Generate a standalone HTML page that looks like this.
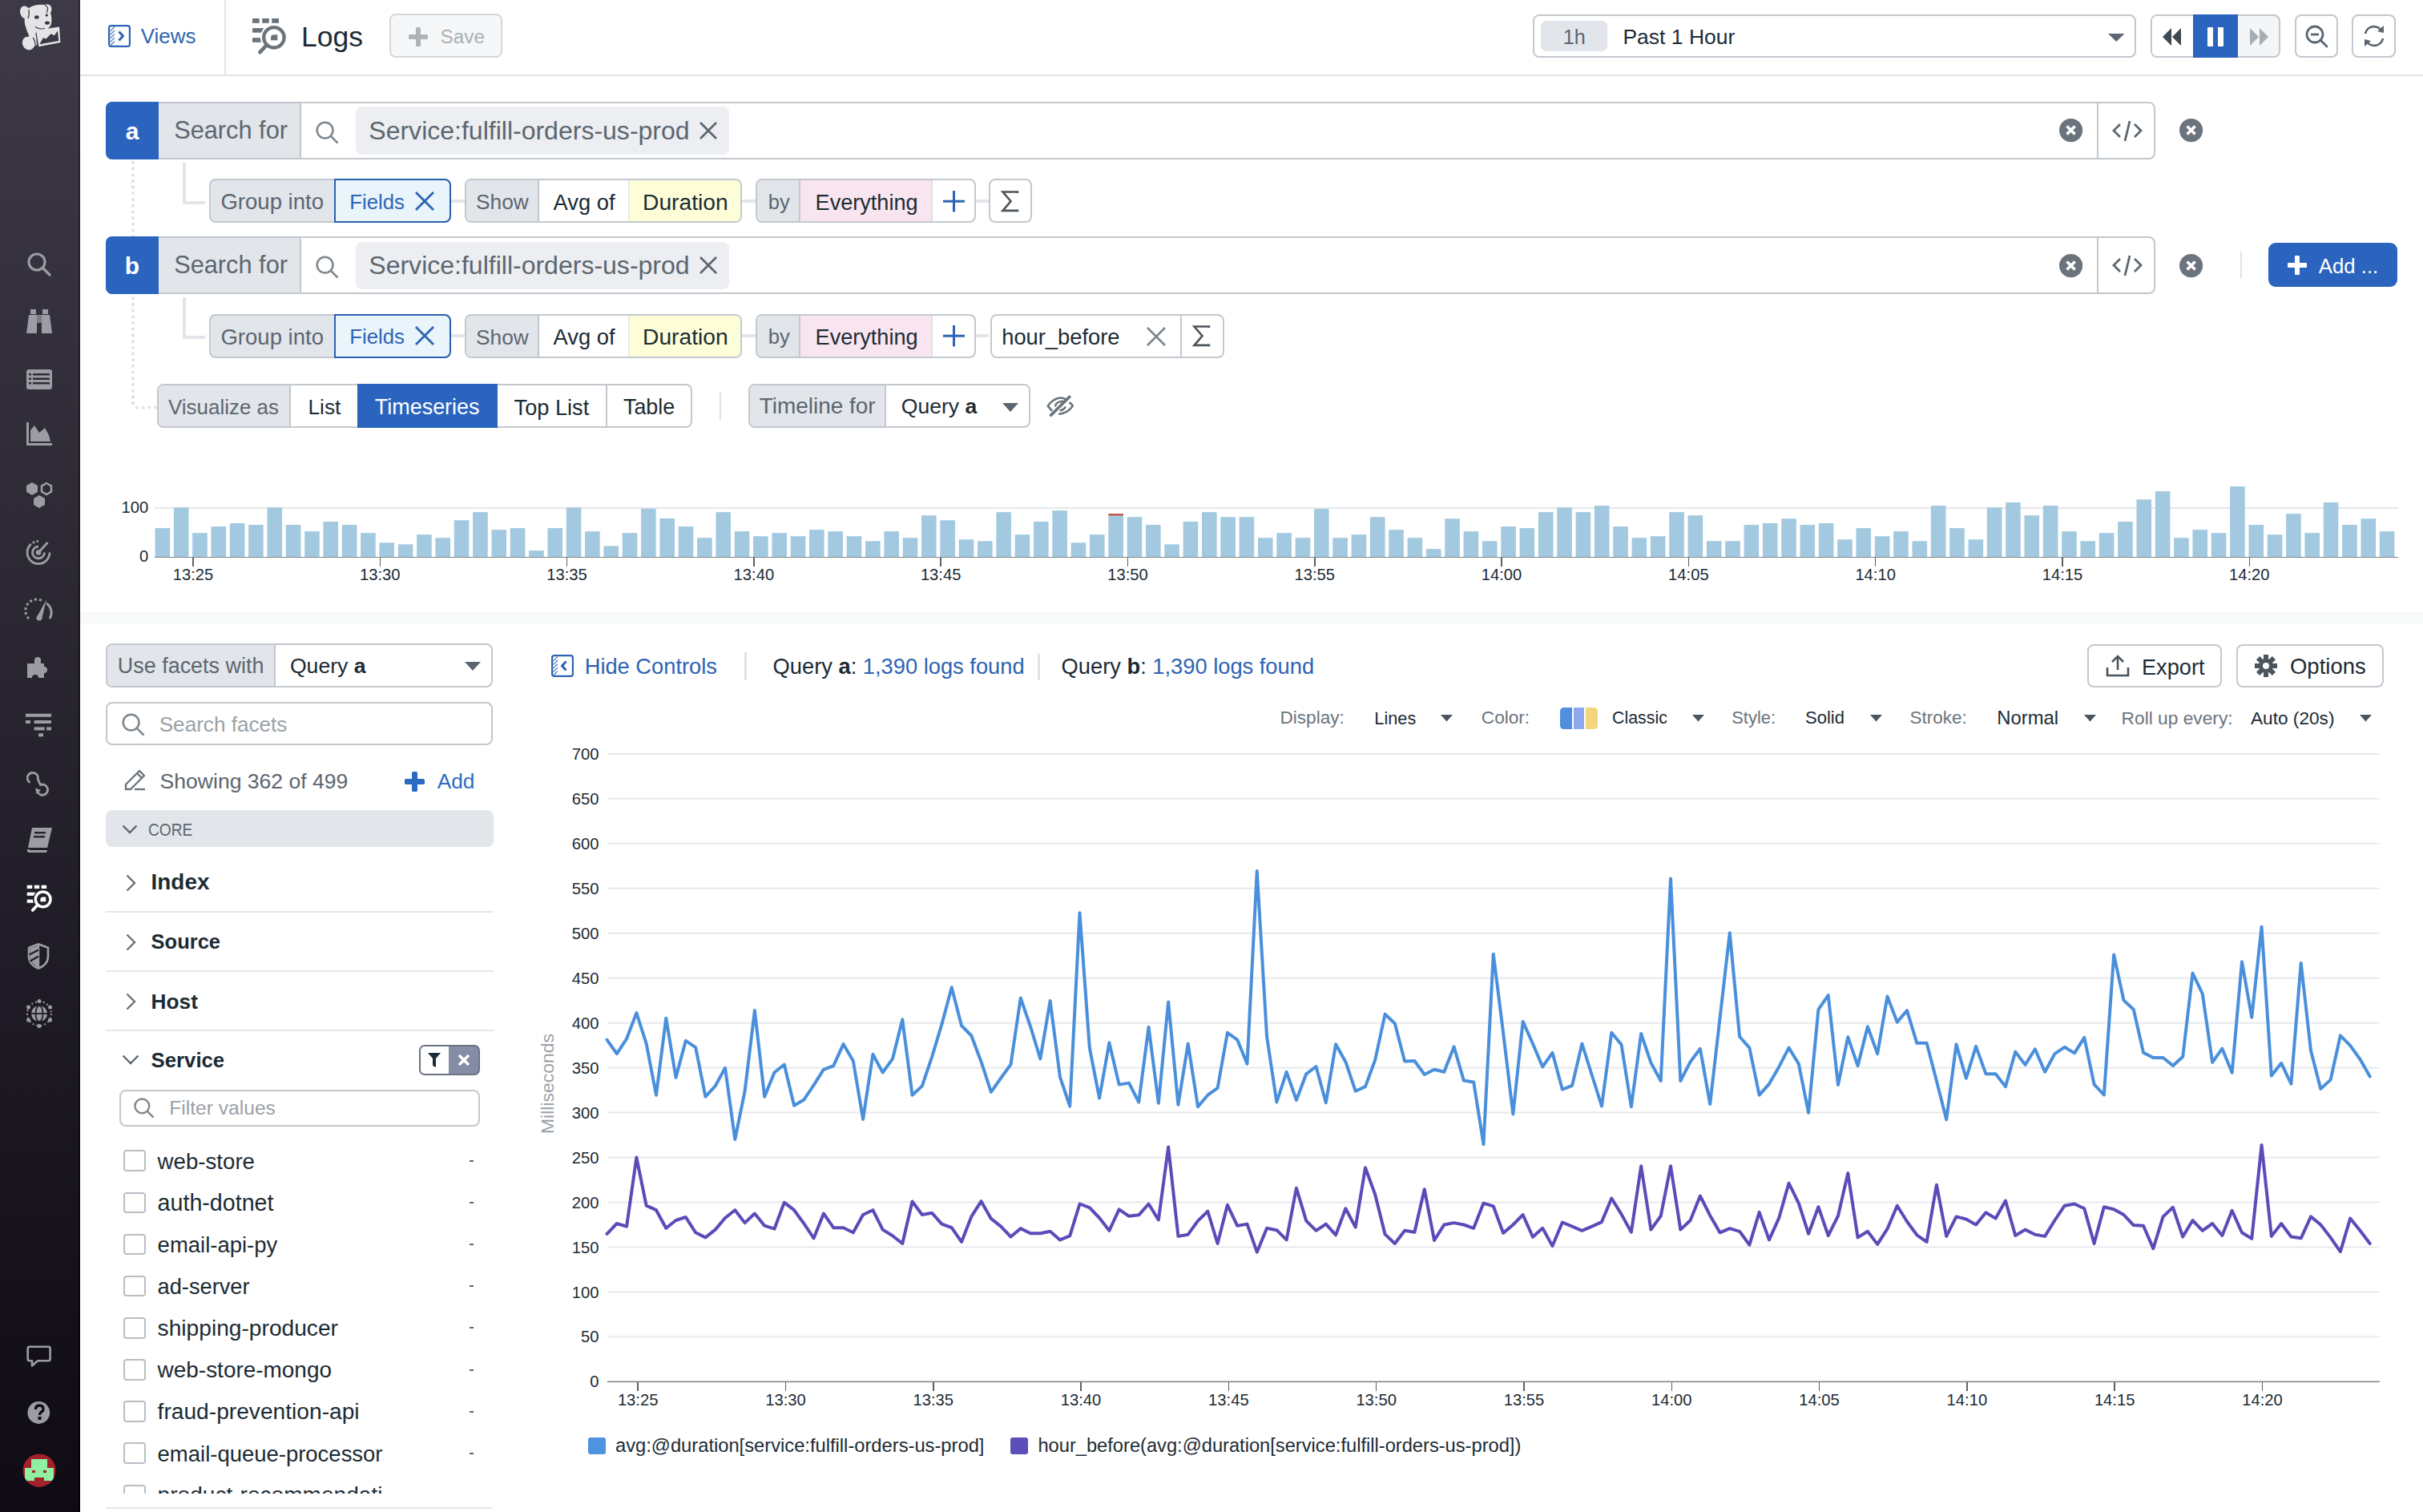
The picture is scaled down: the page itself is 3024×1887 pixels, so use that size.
<!DOCTYPE html>
<html><head><meta charset="utf-8"><style>
html,body{margin:0;padding:0;width:3024px;height:1887px;overflow:hidden;background:#fff;}
body{position:relative;font-family:"Liberation Sans",sans-serif;}
.t{position:absolute;white-space:nowrap;line-height:1;}
.t b{font-weight:700;}
.r{position:absolute;box-sizing:border-box;}
.s{position:absolute;overflow:visible;}
</style></head><body>
<div class="r" style="left:0.0px;top:0.0px;width:100.0px;height:1887.0px;background:linear-gradient(#3d3946,#0f0b15);"></div>
<div class="r" style="left:98.0px;top:0.0px;width:2.0px;height:1887.0px;background:linear-gradient(#2c2931,#000);"></div>
<svg class="s" style="left:0.0px;top:0.0px;" width="100.0" height="100.0" viewBox="0 0 100 100">
<g fill="#e4e4e6">
<ellipse cx="31.5" cy="15.5" rx="6.3" ry="8.2" transform="rotate(-20 31.5 15.5)"/>
<path d="M36 10 Q44 5 55 6 Q60 4 63 7 Q66 11 63 16 Q65 22 64 30 Q61 37 54 38 L47 38.5 Q43 41 45 45 L46 56 L40 60 Q36 50 36 44 Q33 38 31 30 Q29 20 36 10 Z"/>
<ellipse cx="35.5" cy="54" rx="7.5" ry="8.5" transform="rotate(-25 35.5 54)"/>
<path d="M45 37.7 L74 33.4 L75.4 52.9 L48.3 58.2 Z"/>
</g>
<path d="M47.2 39.6 L72.3 35.8 L73.6 51.2 L49.8 55.8 Z" fill="#e4e4e6" stroke="#3b3744" stroke-width="0.01"/>
<path d="M49.3 55.2 L53.9 47.3 L57.5 48.6 L63.5 42.3 L67.8 44.3 L71.8 38.4 L73.4 50.9 Z" fill="#3b3744"/>
<path d="M56 6 Q62 9 58 16" fill="none" stroke="#3b3744" stroke-width="1.2"/>
<path d="M36 12 Q37 18 35 23" fill="none" stroke="#3b3744" stroke-width="1.3"/>
<ellipse cx="45.8" cy="21.4" rx="2.8" ry="2.2" fill="#3b3744"/>
<ellipse cx="58.3" cy="19" rx="1.6" ry="1.8" fill="#3b3744"/>
<ellipse cx="59" cy="28.6" rx="3" ry="2.2" fill="#3b3744"/>
<path d="M44 33.5 Q49 37 56 35.5" fill="none" stroke="#3b3744" stroke-width="1.1"/>
<path d="M41 47 Q44 50 44 58" fill="none" stroke="#3b3744" stroke-width="1.2"/>
</svg>
<svg class="s" style="left:30.5px;top:311.6px;" width="36.0" height="36.0" viewBox="0 0 36 36"><g fill="none" stroke="#9d9ba4" stroke-width="3.2"><circle cx="15" cy="15" r="10"/><line x1="22.5" y1="22.5" x2="31" y2="31" stroke-linecap="round"/></g></svg>
<svg class="s" style="left:30.5px;top:382.7px;" width="36.0" height="36.0" viewBox="0 0 36 36"><g fill="#9d9ba4"><rect x="7" y="3" width="7" height="6"/><rect x="22" y="3" width="7" height="6"/><path d="M5 10 H15 V33 H2 Z"/><path d="M21 10 H31 L34 33 H21 Z"/><rect x="15" y="10" width="6" height="10" fill="#9d9ba4" opacity=".7"/></g></svg>
<svg class="s" style="left:30.5px;top:454.8px;" width="36.0" height="36.0" viewBox="0 0 36 36"><g fill="#9d9ba4"><rect x="2" y="6" width="32" height="25" rx="3"/></g><g fill="#2f2c38"><rect x="5" y="11" width="3" height="2.5"/><rect x="10" y="11" width="21" height="2.5"/><rect x="5" y="16.5" width="3" height="2.5"/><rect x="10" y="16.5" width="21" height="2.5"/><rect x="5" y="22" width="3" height="2.5"/><rect x="10" y="22" width="21" height="2.5"/></g></svg>
<svg class="s" style="left:30.5px;top:523.2px;" width="36.0" height="36.0" viewBox="0 0 36 36"><g fill="#9d9ba4"><path d="M2 4 H5 V30 H34 V33 H2 Z"/><path d="M7 28 V14 L12 8 L18 17 L25 11 L30 20 L32 28 Z"/></g></svg>
<svg class="s" style="left:30.5px;top:599.3px;" width="36.0" height="36.0" viewBox="0 0 36 36"><g fill="#9d9ba4"><path d="M9 3 L16 7 V15 L9 19 L2 15 V7 Z"/><path d="M18 19 L25 23 V31 L18 35 L11 31 V23 Z"/></g><path d="M27 4 L33 7.5 V14.5 L27 18 L21 14.5 V7.5 Z" fill="none" stroke="#9d9ba4" stroke-width="2.6"/></svg>
<svg class="s" style="left:0.0px;top:660.0px;" width="100.0" height="60.0" viewBox="0 0 100 60"><g fill="none" stroke="#9d9ba4" stroke-width="2.8"><path d="M48 15.5 A14 14 0 1 0 62 29.5" stroke-dasharray="2.5 2.2 3 2.2 60"/><path d="M48 22 A7.5 7.5 0 1 0 55.5 29.5"/><line x1="48" y1="29.5" x2="59.5" y2="17"/></g><circle cx="48" cy="29.5" r="3.3" fill="#9d9ba4"/></svg>
<svg class="s" style="left:30.5px;top:741.5px;" width="36.0" height="36.0" viewBox="0 0 36 36"><g fill="none" stroke="#9d9ba4" stroke-width="3"><path d="M5 30 A14 14 0 0 1 22 8" stroke-dasharray="3 3"/><path d="M27 11 A14 14 0 0 1 31 30"/></g><path d="M15 28 L27 6 L21 31 Z" fill="#9d9ba4"/><circle cx="18" cy="29" r="3.5" fill="#9d9ba4"/></svg>
<svg class="s" style="left:30.5px;top:815.3px;" width="36.0" height="36.0" viewBox="0 0 36 36"><path fill="#9d9ba4" d="M3 13 H12 V9 A4 4 0 1 1 20 9 V13 H24 V17 A4 4 0 1 1 24 25 V31 H17 A4 4 0 1 0 9 31 H3 Z"/></svg>
<svg class="s" style="left:0.0px;top:880.0px;" width="100.0" height="50.0" viewBox="0 0 100 50"><g fill="#9d9ba4"><rect x="31.9" y="10.7" width="32.1" height="4.1"/><rect x="31.9" y="19" width="6" height="4"/><rect x="42.6" y="19" width="21.4" height="4"/><rect x="42.6" y="27.4" width="13.1" height="4"/><rect x="58.1" y="27.4" width="5.9" height="4"/><rect x="48.1" y="35.2" width="5.9" height="4.1"/></g></svg>
<svg class="s" style="left:0.0px;top:940.0px;" width="100.0" height="80.0" viewBox="0 0 100 80"><g fill="none" stroke="#9d9ba4" stroke-width="2.8" stroke-linecap="round"><path d="M36.5 36 A6.6 6.6 0 1 1 47.2 32.5 L50.5 39.5"/><path d="M50.5 39.5 A6.6 6.6 0 1 1 47 48.5"/></g><path d="M44 43.5 L51 46 L45.5 51 Z" fill="#9d9ba4"/></svg>
<svg class="s" style="left:30.5px;top:1030.0px;" width="36.0" height="36.0" viewBox="0 0 36 36"><g fill="#9d9ba4"><path d="M9 3 H34 L28 28 H4 Z"/><path d="M3 30 Q2 34 6 34 H27 L28 31 H7 Q5 31 6 30 Z"/></g><g fill="#2a2631"><rect x="14" y="8" width="14" height="2.5" transform="skewX(-12)"/><rect x="14" y="13" width="14" height="2.5" transform="skewX(-12)"/></g></svg>
<svg class="s" style="left:32.5px;top:1104.0px;" width="33.0" height="33.0" viewBox="0 0 33 33"><g transform="scale(0.74)"><g fill="#fff"><rect x="1" y="1" width="8.7" height="5.8"/><rect x="13.2" y="1" width="8.6" height="5.8"/><rect x="25.2" y="1" width="8.8" height="5.8"/><rect x="1" y="13.1" width="14" height="5.6"/><rect x="1" y="25.2" width="11" height="5.6"/></g><circle cx="27.9" cy="24.8" r="17" fill="#231f2b"/><g fill="none" stroke="#fff"><circle cx="27.9" cy="24.8" r="12.7" stroke-width="4.6"/><line x1="18" y1="35.2" x2="10.4" y2="43.2" stroke-width="5" stroke-linecap="round"/></g><path d="M23.5 28.8 V25 Q23.5 20.8 28 20.8 H32.8 V28.8 Z" fill="#fff"/></g></svg>
<svg class="s" style="left:0.0px;top:1160.0px;" width="100.0" height="60.0" viewBox="0 0 100 60"><path d="M48 18.3 L60 22.8 V33 Q60 44 48 48.5 Q36 44 36 33 V22.8 Z" fill="none" stroke="#9d9ba4" stroke-width="2.6" stroke-linejoin="round"/><line x1="48" y1="19" x2="48" y2="48" stroke="#9d9ba4" stroke-width="2.4"/><path d="M48 20 V47 Q38.5 43 37.3 33 V23.8 Z" fill="#9d9ba4"/><g stroke="#211d29" stroke-width="2.2"><line x1="36.5" y1="31.5" x2="48" y2="25.5"/><line x1="37.5" y1="39.5" x2="48" y2="33.5"/></g></svg>
<svg class="s" style="left:30.5px;top:1246.5px;" width="36.0" height="36.0" viewBox="0 0 36 36"><circle cx="18" cy="18" r="10" fill="#9d9ba4"/><g fill="none" stroke="#221e2a" stroke-width="1.8"><ellipse cx="18" cy="18" rx="4.5" ry="10"/><line x1="8" y1="18" x2="28" y2="18"/></g><g fill="none" stroke="#9d9ba4" stroke-width="2" stroke-dasharray="2 3"><circle cx="18" cy="18" r="15"/></g><g fill="#9d9ba4"><circle cx="18" cy="2.5" r="2.5"/><circle cx="18" cy="33.5" r="2.5"/><circle cx="4.5" cy="10" r="2.5"/><circle cx="31.5" cy="10" r="2.5"/><circle cx="4.5" cy="26" r="2.5"/><circle cx="31.5" cy="26" r="2.5"/></g></svg>
<svg class="s" style="left:0.0px;top:1660.0px;" width="100.0" height="60.0" viewBox="0 0 100 60"><path d="M37 20.8 H60.5 Q62.6 20.8 62.6 23 V36 Q62.6 38.3 60.5 38.3 H47 L40 44.5 V38.3 H37 Q34.7 38.3 34.7 36 V23 Q34.7 20.8 37 20.8 Z" fill="none" stroke="#9d9ba4" stroke-width="2.6" stroke-linejoin="round"/></svg>
<svg class="s" style="left:30.5px;top:1744.9px;" width="36.0" height="36.0" viewBox="0 0 36 36"><circle cx="17.3" cy="18" r="13.9" fill="#9d9ba4"/><path d="M13.5 14 Q13.5 9 18 9 Q23 9 23 13.5 Q23 16 20 17.5 Q18.5 18.5 18.5 21" fill="none" stroke="#0f0b15" stroke-width="3.3"/><rect x="16.5" y="23" width="4" height="4" fill="#0f0b15"/></svg>
<svg class="s" style="left:27.5px;top:1814.3px;" width="42.0" height="42.0" viewBox="0 0 42 42"><defs><clipPath id="av"><circle cx="21" cy="21" r="20.5"/></clipPath></defs><g clip-path="url(#av)"><rect width="42" height="42" fill="#a3212a"/><rect x="11" y="7" width="20" height="13" fill="#8ef0a0"/><rect x="3" y="18" width="36" height="17" fill="#8ef0a0"/><rect x="15" y="30" width="12" height="12" fill="#a3212a"/><rect x="12" y="21" width="4" height="3" fill="#a3212a"/><rect x="26" y="21" width="4" height="3" fill="#a3212a"/><rect x="0" y="34" width="42" height="8" fill="#a3212a"/></g></svg>
<div class="r" style="left:100.0px;top:93.0px;width:2924.0px;height:2.0px;background:#e0e4e8;"></div>
<div class="r" style="left:280.0px;top:0.0px;width:2.0px;height:93.0px;background:#e2e6ea;"></div>
<svg class="s" style="left:135.0px;top:31.0px;" width="28.0" height="28.0" viewBox="0 0 28 28"><rect x="1.1" y="1.1" width="25.8" height="25.8" rx="2.6" fill="none" stroke="#2e64b3" stroke-width="2.2"/><g stroke="#2e64b3" stroke-width="1.1" opacity=".85"><line x1="2.5" y1="8" x2="8" y2="2.5"/><line x1="2.5" y1="12.5" x2="8" y2="7"/><line x1="2.5" y1="17" x2="8" y2="11.5"/><line x1="2.5" y1="21.5" x2="8" y2="16"/><line x1="3" y1="25.5" x2="8" y2="20.5"/></g><path d="M13.5 8.5 L18.5 14 L13.5 19.5" fill="none" stroke="#2e64b3" stroke-width="3"/></svg>
<div class="t" style="left:175.8px;top:32.9px;font-size:25.89px;color:#2e64b3;">Views</div>
<svg class="s" style="left:314.0px;top:22.0px;" width="44.0" height="46.0" viewBox="0 0 44 46"><g fill="#6b747a"><rect x="1" y="1" width="8.7" height="5.8"/><rect x="13.2" y="1" width="8.6" height="5.8"/><rect x="25.2" y="1" width="8.8" height="5.8"/><rect x="1" y="13.1" width="14" height="5.6"/><rect x="1" y="25.2" width="11" height="5.6"/></g><circle cx="27.9" cy="24.8" r="17" fill="#fff"/><g fill="none" stroke="#6b747a"><circle cx="27.9" cy="24.8" r="12.7" stroke-width="4.3"/><line x1="18" y1="35.2" x2="10.4" y2="43.2" stroke-width="4.6" stroke-linecap="round"/></g><path d="M24 28.3 V25 Q24 21.3 28 21.3 H32.3 V28.3 Z" fill="#6b747a"/></svg>
<div class="t" style="left:376.0px;top:28.8px;font-size:35.51px;color:#1c2b34;">Logs</div>
<div class="r" style="left:486.4px;top:17.3px;width:140.6px;height:54.8px;background:#f6f7f8;border:2px solid #d3d7dc;border-radius:8px;"></div>
<svg class="s" style="left:509.0px;top:33.0px;" width="26.0" height="26.0" viewBox="0 0 26 26"><g fill="#adb3b8"><rect x="10" y="1" width="6" height="24" rx="1.5"/><rect x="1" y="10" width="24" height="6" rx="1.5"/></g></svg>
<div class="t" style="left:549.5px;top:34.2px;font-size:24.35px;color:#a9afb4;">Save</div>
<div class="r" style="left:1913.0px;top:17.5px;width:753.0px;height:54.5px;background:#fff;border:2px solid #c3c8ce;border-radius:8px;"></div>
<div class="r" style="left:1923.4px;top:26.0px;width:83.1px;height:37.7px;background:#e2e5ea;border-radius:7px;"></div>
<div class="t" style="left:1950.8px;top:34.4px;font-size:25.18px;color:#5c6670;">1h</div>
<div class="t" style="left:2025.4px;top:33.3px;font-size:26.52px;color:#1c2b34;">Past 1 Hour</div>
<svg class="s" style="left:2630.5px;top:41.5px;" width="20.5" height="10.0" viewBox="0 0 20.5 10"><path d="M0 0 H20.5 L10.25 10 Z" fill="#5c6670"/></svg>
<div class="r" style="left:2683.6px;top:17.5px;width:162.9px;height:54.5px;background:#f4f5f7;border:2px solid #c3c8ce;border-radius:8px;"></div>
<div class="r" style="left:2685.6px;top:19.5px;width:51.4px;height:50.5px;background:#fff;border-radius:6px 0 0 6px;"></div>
<div class="r" style="left:2737.0px;top:17.5px;width:55.6px;height:54.5px;background:#2b64be;"></div>
<svg class="s" style="left:2697.0px;top:33.0px;" width="28.0" height="26.0" viewBox="0 0 28 26"><g fill="#3e4850"><path d="M13 2 L2 13 L13 24 Z"/><path d="M25 2 L14 13 L25 24 Z"/></g></svg>
<svg class="s" style="left:2752.0px;top:32.0px;" width="26.0" height="28.0" viewBox="0 0 26 28"><g fill="#fff"><rect x="3" y="2" width="7" height="24" rx="1"/><rect x="16" y="2" width="7" height="24" rx="1"/></g></svg>
<svg class="s" style="left:2805.0px;top:33.0px;" width="28.0" height="26.0" viewBox="0 0 28 26"><g fill="#a6adb3"><path d="M3 2 L14 13 L3 24 Z"/><path d="M15 2 L26 13 L15 24 Z"/></g></svg>
<div class="r" style="left:2863.5px;top:17.5px;width:54.5px;height:54.5px;background:#fff;border:2px solid #c3c8ce;border-radius:8px;"></div>
<svg class="s" style="left:2876.0px;top:30.0px;" width="30.0" height="30.0" viewBox="0 0 30 30"><g fill="none" stroke="#5c6670" stroke-width="2.8"><circle cx="13" cy="13" r="10"/><line x1="8" y1="13" x2="18" y2="13"/><line x1="20.5" y1="20.5" x2="28" y2="28" stroke-linecap="round"/></g></svg>
<div class="r" style="left:2935.0px;top:17.5px;width:55.0px;height:54.5px;background:#fff;border:2px solid #c3c8ce;border-radius:8px;"></div>
<svg class="s" style="left:2947.0px;top:30.0px;" width="32.0" height="30.0" viewBox="0 0 32 30"><g fill="none" stroke="#5c6670" stroke-width="2.8"><path d="M5 12 A11 11 0 0 1 26 10"/><path d="M27 18 A11 11 0 0 1 6 20"/></g><g fill="#5c6670"><path d="M20 9 L28 11 L28 2 Z"/><path d="M12 21 L4 19 L4 28 Z"/></g></svg>
<svg class="s" style="left:162.0px;top:199.0px;" width="36.0" height="314.0" viewBox="0 0 36 314"><line x1="4" y1="2" x2="4" y2="309" stroke="#dfe2e6" stroke-width="3.6" stroke-dasharray="3.6 4.1"/><line x1="7" y1="309.6" x2="34" y2="309.6" stroke="#dfe2e6" stroke-width="3.6" stroke-dasharray="3.6 4.1"/></svg>
<div class="r" style="left:132.0px;top:127.0px;width:2558.0px;height:72.0px;background:#fff;border:2px solid #c3c8ce;border-radius:8px;"></div>
<div class="r" style="left:132.0px;top:127.0px;width:66.0px;height:72.0px;background:#2b64be;border-radius:8px 0 0 8px;"></div>
<div class="t" style="left:156.7px;top:148.5px;font-size:30.00px;color:#fff;font-weight:700;">a</div>
<div class="r" style="left:198.0px;top:129.0px;width:178.0px;height:68.0px;background:#e2e5ea;border-right:2px solid #c3c8ce;"></div>
<div class="t" style="left:217.2px;top:147.9px;font-size:30.74px;color:#5c6670;">Search for</div>
<svg class="s" style="left:393.0px;top:150.0px;" width="30.0" height="30.0" viewBox="0 0 30 30"><g fill="none" stroke="#80898f" stroke-width="2.6"><circle cx="12.6" cy="12.6" r="9.9"/><line x1="19.8" y1="19.8" x2="28.5" y2="28.5"/></g></svg>
<div class="r" style="left:443.6px;top:133.4px;width:466.2px;height:59.5px;background:#eceef1;border-radius:8px;"></div>
<div class="t" style="left:460.3px;top:147.1px;font-size:32.03px;color:#5c6670;">Service:fulfill-orders-us-prod</div>
<svg class="s" style="left:873.0px;top:152.0px;" width="22.0" height="22.0" viewBox="0 0 22 22"><g stroke="#5c6670" stroke-width="2.6" stroke-linecap="butt"><line x1="1" y1="1" x2="21" y2="21"/><line x1="21" y1="1" x2="1" y2="21"/></g></svg>
<svg class="s" style="left:2570.4px;top:148.4px;" width="29.2" height="29.2" viewBox="0 0 29.2 29.2"><circle cx="14.6" cy="14.6" r="14.6" fill="#6b747c"/><g stroke="#fff" stroke-width="3.6"><line x1="9.6" y1="9.6" x2="19.6" y2="19.6"/><line x1="19.6" y1="9.6" x2="9.6" y2="19.6"/></g></svg>
<div class="r" style="left:2617.0px;top:127.0px;width:2.0px;height:72.0px;background:#c3c8ce;"></div>
<svg class="s" style="left:2636.0px;top:149.0px;" width="38.0" height="28.0" viewBox="0 0 38 28"><g fill="none" stroke="#5c6670" stroke-width="2.8"><path d="M10 6 L2 14 L10 22"/><path d="M28 6 L36 14 L28 22"/><line x1="22" y1="2" x2="16" y2="27"/></g></svg>
<svg class="s" style="left:2720.4px;top:148.4px;" width="29.2" height="29.2" viewBox="0 0 29.2 29.2"><circle cx="14.6" cy="14.6" r="14.6" fill="#6b747c"/><g stroke="#fff" stroke-width="3.6"><line x1="9.6" y1="9.6" x2="19.6" y2="19.6"/><line x1="19.6" y1="9.6" x2="9.6" y2="19.6"/></g></svg>
<div class="r" style="left:228.0px;top:203.0px;width:4.0px;height:51.7px;background:#e2e5ea;"></div>
<div class="r" style="left:228.0px;top:250.6px;width:28.0px;height:4.1px;background:#e2e5ea;"></div>
<div class="r" style="left:260.5px;top:223.1px;width:302.5px;height:55.4px;background:#e2e5ea;border:2px solid #c3c8ce;border-radius:8px;"></div>
<div class="t" style="left:275.4px;top:238.3px;font-size:27.56px;color:#5c6670;">Group into</div>
<div class="r" style="left:417.0px;top:223.1px;width:146.0px;height:55.4px;background:#eaf4fb;border:2px solid #2d5fb0;border-radius:0 8px 8px 0;"></div>
<div class="t" style="left:436.2px;top:239.8px;font-size:25.76px;color:#2e64b3;">Fields</div>
<svg class="s" style="left:518.0px;top:239.0px;" width="24.0" height="24.0" viewBox="0 0 24 24"><g stroke="#2e64b3" stroke-width="2.8" stroke-linecap="butt"><line x1="1" y1="1" x2="23" y2="23"/><line x1="23" y1="1" x2="1" y2="23"/></g></svg>
<div class="r" style="left:563.0px;top:248.8px;width:17.0px;height:4.0px;background:#e2e5ea;"></div>
<div class="r" style="left:580.0px;top:223.1px;width:346.0px;height:55.4px;background:#fff;border:2px solid #c3c8ce;border-radius:8px;"></div>
<div class="r" style="left:582.0px;top:225.1px;width:91.0px;height:51.4px;background:#e2e5ea;border-radius:6px 0 0 6px;border-right:2px solid #c3c8ce;"></div>
<div class="t" style="left:594.0px;top:239.3px;font-size:26.31px;color:#5c6670;">Show</div>
<div class="t" style="left:690.6px;top:238.5px;font-size:27.34px;color:#1c2b34;">Avg of</div>
<div class="r" style="left:783.5px;top:225.1px;width:140.5px;height:51.4px;background:#fdfdd8;border-left:2px solid #e9ebe0;border-radius:0 6px 6px 0;"></div>
<div class="t" style="left:802.0px;top:237.7px;font-size:28.23px;color:#1c2b34;">Duration</div>
<div class="r" style="left:926.0px;top:248.8px;width:17.0px;height:4.0px;background:#e2e5ea;"></div>
<div class="r" style="left:943.0px;top:223.1px;width:275.0px;height:55.4px;background:#fff;border:2px solid #c3c8ce;border-radius:8px;"></div>
<div class="r" style="left:945.0px;top:225.1px;width:54.0px;height:51.4px;background:#e2e5ea;border-radius:6px 0 0 6px;border-right:2px solid #c3c8ce;"></div>
<div class="t" style="left:958.7px;top:240.0px;font-size:25.57px;color:#5c6670;">by</div>
<div class="r" style="left:999.0px;top:225.1px;width:165.0px;height:51.4px;background:#f9e5ef;border-right:2px solid #dcdfe3;"></div>
<div class="t" style="left:1017.6px;top:238.7px;font-size:27.09px;color:#1c2b34;">Everything</div>
<svg class="s" style="left:1177.0px;top:237.6px;" width="27.0" height="26.4" viewBox="0 0 27 26.4"><g stroke="#2e64b3" stroke-width="3"><line x1="13.5" y1="0" x2="13.5" y2="26.4"/><line x1="0" y1="13.2" x2="27" y2="13.2"/></g></svg>
<div class="r" style="left:1218.0px;top:248.8px;width:16.0px;height:4.0px;background:#e2e5ea;"></div>
<div class="r" style="left:1234.0px;top:223.1px;width:54.0px;height:55.4px;background:#fff;border:2px solid #c3c8ce;border-radius:8px;"></div>
<svg class="s" style="left:1249.6px;top:237.6px;" width="21.0" height="26.4" viewBox="0 0 21 26.4"><path d="M20 3 V1.5 H1.5 L11.55 13.2 L1.5 24.9 H20 V23.4" fill="none" stroke="#4b555d" stroke-width="2.6"/></svg>
<div class="r" style="left:132.0px;top:295.2px;width:2558.0px;height:72.0px;background:#fff;border:2px solid #c3c8ce;border-radius:8px;"></div>
<div class="r" style="left:132.0px;top:295.2px;width:66.0px;height:72.0px;background:#2b64be;border-radius:8px 0 0 8px;"></div>
<div class="t" style="left:155.8px;top:316.7px;font-size:30.00px;color:#fff;font-weight:700;">b</div>
<div class="r" style="left:198.0px;top:297.2px;width:178.0px;height:68.0px;background:#e2e5ea;border-right:2px solid #c3c8ce;"></div>
<div class="t" style="left:217.2px;top:316.1px;font-size:30.74px;color:#5c6670;">Search for</div>
<svg class="s" style="left:393.0px;top:318.2px;" width="30.0" height="30.0" viewBox="0 0 30 30"><g fill="none" stroke="#80898f" stroke-width="2.6"><circle cx="12.6" cy="12.6" r="9.9"/><line x1="19.8" y1="19.8" x2="28.5" y2="28.5"/></g></svg>
<div class="r" style="left:443.6px;top:301.6px;width:466.2px;height:59.5px;background:#eceef1;border-radius:8px;"></div>
<div class="t" style="left:460.3px;top:315.3px;font-size:32.03px;color:#5c6670;">Service:fulfill-orders-us-prod</div>
<svg class="s" style="left:873.0px;top:320.2px;" width="22.0" height="22.0" viewBox="0 0 22 22.0"><g stroke="#5c6670" stroke-width="2.6" stroke-linecap="butt"><line x1="1" y1="1" x2="21" y2="21.0"/><line x1="21" y1="1" x2="1" y2="21.0"/></g></svg>
<svg class="s" style="left:2570.4px;top:316.6px;" width="29.2" height="29.2" viewBox="0 0 29.2 29.2"><circle cx="14.6" cy="14.6" r="14.6" fill="#6b747c"/><g stroke="#fff" stroke-width="3.6"><line x1="9.6" y1="9.6" x2="19.6" y2="19.6"/><line x1="19.6" y1="9.6" x2="9.6" y2="19.6"/></g></svg>
<div class="r" style="left:2617.0px;top:295.2px;width:2.0px;height:72.0px;background:#c3c8ce;"></div>
<svg class="s" style="left:2636.0px;top:317.2px;" width="38.0" height="28.0" viewBox="0 0 38 28"><g fill="none" stroke="#5c6670" stroke-width="2.8"><path d="M10 6 L2 14 L10 22"/><path d="M28 6 L36 14 L28 22"/><line x1="22" y1="2" x2="16" y2="27"/></g></svg>
<svg class="s" style="left:2720.4px;top:316.6px;" width="29.2" height="29.2" viewBox="0 0 29.2 29.2"><circle cx="14.6" cy="14.6" r="14.6" fill="#6b747c"/><g stroke="#fff" stroke-width="3.6"><line x1="9.6" y1="9.6" x2="19.6" y2="19.6"/><line x1="19.6" y1="9.6" x2="9.6" y2="19.6"/></g></svg>
<div class="r" style="left:228.0px;top:371.4px;width:4.0px;height:51.7px;background:#e2e5ea;"></div>
<div class="r" style="left:228.0px;top:419.0px;width:28.0px;height:4.1px;background:#e2e5ea;"></div>
<div class="r" style="left:260.5px;top:391.5px;width:302.5px;height:55.4px;background:#e2e5ea;border:2px solid #c3c8ce;border-radius:8px;"></div>
<div class="t" style="left:275.4px;top:406.7px;font-size:27.56px;color:#5c6670;">Group into</div>
<div class="r" style="left:417.0px;top:391.5px;width:146.0px;height:55.4px;background:#eaf4fb;border:2px solid #2d5fb0;border-radius:0 8px 8px 0;"></div>
<div class="t" style="left:436.2px;top:408.2px;font-size:25.76px;color:#2e64b3;">Fields</div>
<svg class="s" style="left:518.0px;top:407.4px;" width="24.0" height="24.0" viewBox="0 0 24 24.0"><g stroke="#2e64b3" stroke-width="2.8" stroke-linecap="butt"><line x1="1" y1="1" x2="23" y2="23.0"/><line x1="23" y1="1" x2="1" y2="23.0"/></g></svg>
<div class="r" style="left:563.0px;top:417.2px;width:17.0px;height:4.0px;background:#e2e5ea;"></div>
<div class="r" style="left:580.0px;top:391.5px;width:346.0px;height:55.4px;background:#fff;border:2px solid #c3c8ce;border-radius:8px;"></div>
<div class="r" style="left:582.0px;top:393.5px;width:91.0px;height:51.4px;background:#e2e5ea;border-radius:6px 0 0 6px;border-right:2px solid #c3c8ce;"></div>
<div class="t" style="left:594.0px;top:407.7px;font-size:26.31px;color:#5c6670;">Show</div>
<div class="t" style="left:690.6px;top:406.9px;font-size:27.34px;color:#1c2b34;">Avg of</div>
<div class="r" style="left:783.5px;top:393.5px;width:140.5px;height:51.4px;background:#fdfdd8;border-left:2px solid #e9ebe0;border-radius:0 6px 6px 0;"></div>
<div class="t" style="left:802.0px;top:406.1px;font-size:28.23px;color:#1c2b34;">Duration</div>
<div class="r" style="left:926.0px;top:417.2px;width:17.0px;height:4.0px;background:#e2e5ea;"></div>
<div class="r" style="left:943.0px;top:391.5px;width:275.0px;height:55.4px;background:#fff;border:2px solid #c3c8ce;border-radius:8px;"></div>
<div class="r" style="left:945.0px;top:393.5px;width:54.0px;height:51.4px;background:#e2e5ea;border-radius:6px 0 0 6px;border-right:2px solid #c3c8ce;"></div>
<div class="t" style="left:958.7px;top:408.4px;font-size:25.57px;color:#5c6670;">by</div>
<div class="r" style="left:999.0px;top:393.5px;width:165.0px;height:51.4px;background:#f9e5ef;border-right:2px solid #dcdfe3;"></div>
<div class="t" style="left:1017.6px;top:407.1px;font-size:27.09px;color:#1c2b34;">Everything</div>
<svg class="s" style="left:1177.0px;top:406.0px;" width="27.0" height="26.4" viewBox="0 0 27 26.4"><g stroke="#2e64b3" stroke-width="3"><line x1="13.5" y1="0" x2="13.5" y2="26.4"/><line x1="0" y1="13.2" x2="27" y2="13.2"/></g></svg>
<div class="r" style="left:1218.0px;top:417.2px;width:16.0px;height:4.0px;background:#e2e5ea;"></div>
<div class="r" style="left:1236.0px;top:391.5px;width:292.0px;height:55.4px;background:#fff;border:2px solid #c3c8ce;border-radius:8px;"></div>
<div class="t" style="left:1250.2px;top:406.9px;font-size:27.32px;color:#1c2b34;">hour_before</div>
<svg class="s" style="left:1431.0px;top:407.5px;" width="24.0" height="24.0" viewBox="0 0 24 24.0"><g stroke="#7d868c" stroke-width="2.6" stroke-linecap="butt"><line x1="1" y1="1" x2="23" y2="23.0"/><line x1="23" y1="1" x2="1" y2="23.0"/></g></svg>
<div class="r" style="left:1473.0px;top:391.5px;width:2.0px;height:55.4px;background:#c3c8ce;"></div>
<svg class="s" style="left:1489.4px;top:406.0px;" width="21.0" height="26.4" viewBox="0 0 21 26.4"><path d="M20 3 V1.5 H1.5 L11.55 13.2 L1.5 24.9 H20 V23.4" fill="none" stroke="#4b555d" stroke-width="2.6"/></svg>
<div class="r" style="left:2796.0px;top:314.0px;width:2.0px;height:33.0px;background:#dfe2e6;"></div>
<div class="r" style="left:2831.4px;top:303.0px;width:160.6px;height:55.0px;background:#2b64be;border-radius:9px;"></div>
<svg class="s" style="left:2855.0px;top:319.0px;" width="24.0" height="24.0" viewBox="0 0 24 24"><g fill="#fff"><rect x="9" y="0" width="6" height="24" rx="1"/><rect x="0" y="9" width="24" height="6" rx="1"/></g></svg>
<div class="t" style="left:2893.8px;top:319.6px;font-size:25.77px;color:#fff;">Add ...</div>
<div class="r" style="left:196.0px;top:479.3px;width:668.0px;height:54.7px;background:#fff;border:2px solid #c3c8ce;border-radius:8px;"></div>
<div class="r" style="left:198.0px;top:481.3px;width:165.0px;height:50.7px;background:#e2e5ea;border-radius:6px 0 0 6px;border-right:2px solid #c3c8ce;"></div>
<div class="t" style="left:210.0px;top:495.5px;font-size:25.95px;color:#5c6670;">Visualize as</div>
<div class="t" style="left:384.5px;top:495.3px;font-size:26.28px;color:#1c2b34;">List</div>
<div class="r" style="left:446.0px;top:479.3px;width:175.0px;height:54.7px;background:#2b64be;"></div>
<div class="t" style="left:467.8px;top:494.7px;font-size:26.94px;color:#fff;">Timeseries</div>
<div class="t" style="left:641.6px;top:494.5px;font-size:27.16px;color:#1c2b34;">Top List</div>
<div class="r" style="left:756.0px;top:481.3px;width:2.0px;height:50.7px;background:#c3c8ce;"></div>
<div class="t" style="left:778.0px;top:494.8px;font-size:26.86px;color:#1c2b34;">Table</div>
<div class="r" style="left:897.6px;top:490.0px;width:2.0px;height:33.5px;background:#dfe2e6;"></div>
<div class="r" style="left:934.0px;top:479.3px;width:352.3px;height:54.7px;background:#fff;border:2px solid #c3c8ce;border-radius:8px;"></div>
<div class="r" style="left:936.0px;top:481.3px;width:170.0px;height:50.7px;background:#e2e5ea;border-radius:6px 0 0 6px;border-right:2px solid #c3c8ce;"></div>
<div class="t" style="left:947.7px;top:492.7px;font-size:27.96px;color:#5c6670;">Timeline for</div>
<div class="t" style="left:1124.8px;top:493.9px;font-size:26.57px;color:#1c2b34;">Query <b>a</b></div>
<svg class="s" style="left:1251.0px;top:503.0px;" width="20.0" height="11.0" viewBox="0 0 20 11"><path d="M0 0 H20 L10 11 Z" fill="#5c6670"/></svg>
<svg class="s" style="left:1300.0px;top:488.0px;" width="46.0" height="40.0" viewBox="0 0 46 40"><g fill="none" stroke="#6b747a" stroke-width="2.6"><path d="M30.5 10.5 Q27 8.2 23 8.5 Q14 9.5 7.8 18.7 L13 24.8"/><path d="M34.5 14.2 Q38 16.5 38.7 18.7 Q32 28.5 21 28.7"/><path d="M17 19.5 Q17 13.5 27 12.5"/><path d="M22.8 24.6 Q28 23.5 29.8 19.5"/></g><line x1="10.5" y1="31.3" x2="35.8" y2="6.2" stroke="#6b747a" stroke-width="3.6"/></svg>
<div class="r" style="left:192.5px;top:632.5px;width:2800.5px;height:2.0px;background:#e6e8eb;"></div>
<svg class="s" style="left:192.0px;top:590.0px;display:none" width="802.0" height="0.0" viewBox="0 0 802 0"></svg>
<svg class="s" style="left:192px;top:590px" width="2802" height="110" viewBox="0 0 2802 110"><g fill="#a3c9e0"><rect x="1.50" y="69.09" width="18.6" height="36.41"/><rect x="24.83" y="43.38" width="18.6" height="62.12"/><rect x="48.16" y="75.16" width="18.6" height="30.34"/><rect x="71.49" y="67.07" width="18.6" height="38.43"/><rect x="94.82" y="63.03" width="18.6" height="42.47"/><rect x="118.15" y="65.05" width="18.6" height="40.45"/><rect x="141.48" y="43.38" width="18.6" height="62.12"/><rect x="164.81" y="65.05" width="18.6" height="40.45"/><rect x="188.14" y="73.14" width="18.6" height="32.36"/><rect x="211.47" y="61.00" width="18.6" height="44.50"/><rect x="234.80" y="65.05" width="18.6" height="40.45"/><rect x="258.13" y="75.16" width="18.6" height="30.34"/><rect x="281.46" y="87.30" width="18.6" height="18.20"/><rect x="304.79" y="89.32" width="18.6" height="16.18"/><rect x="328.12" y="77.18" width="18.6" height="28.32"/><rect x="351.45" y="81.23" width="18.6" height="24.27"/><rect x="374.78" y="59.27" width="18.6" height="46.23"/><rect x="398.11" y="49.16" width="18.6" height="56.34"/><rect x="421.44" y="71.12" width="18.6" height="34.38"/><rect x="444.77" y="69.09" width="18.6" height="36.41"/><rect x="468.10" y="97.12" width="18.6" height="8.38"/><rect x="491.43" y="69.09" width="18.6" height="36.41"/><rect x="514.76" y="43.38" width="18.6" height="62.12"/><rect x="538.09" y="73.14" width="18.6" height="32.36"/><rect x="561.42" y="91.34" width="18.6" height="14.16"/><rect x="584.75" y="75.16" width="18.6" height="30.34"/><rect x="608.08" y="44.82" width="18.6" height="60.68"/><rect x="631.41" y="56.96" width="18.6" height="48.54"/><rect x="654.74" y="67.07" width="18.6" height="38.43"/><rect x="678.07" y="81.23" width="18.6" height="24.27"/><rect x="701.40" y="49.16" width="18.6" height="56.34"/><rect x="724.73" y="73.14" width="18.6" height="32.36"/><rect x="748.06" y="79.21" width="18.6" height="26.29"/><rect x="771.39" y="75.16" width="18.6" height="30.34"/><rect x="794.72" y="79.21" width="18.6" height="26.29"/><rect x="818.05" y="71.12" width="18.6" height="34.38"/><rect x="841.38" y="73.14" width="18.6" height="32.36"/><rect x="864.71" y="79.21" width="18.6" height="26.29"/><rect x="888.04" y="85.27" width="18.6" height="20.23"/><rect x="911.37" y="73.14" width="18.6" height="32.36"/><rect x="934.70" y="81.23" width="18.6" height="24.27"/><rect x="958.03" y="53.20" width="18.6" height="52.30"/><rect x="981.36" y="59.27" width="18.6" height="46.23"/><rect x="1004.69" y="83.25" width="18.6" height="22.25"/><rect x="1028.02" y="85.27" width="18.6" height="20.23"/><rect x="1051.35" y="49.16" width="18.6" height="56.34"/><rect x="1074.68" y="77.18" width="18.6" height="28.32"/><rect x="1098.01" y="61.00" width="18.6" height="44.50"/><rect x="1121.34" y="47.14" width="18.6" height="58.36"/><rect x="1144.67" y="87.30" width="18.6" height="18.20"/><rect x="1168.00" y="77.18" width="18.6" height="28.32"/><rect x="1191.33" y="53.20" width="18.6" height="52.30"/><rect x="1214.66" y="55.23" width="18.6" height="50.27"/><rect x="1237.99" y="65.05" width="18.6" height="40.45"/><rect x="1261.32" y="89.32" width="18.6" height="16.18"/><rect x="1284.65" y="61.00" width="18.6" height="44.50"/><rect x="1307.98" y="49.16" width="18.6" height="56.34"/><rect x="1331.31" y="55.23" width="18.6" height="50.27"/><rect x="1354.64" y="55.23" width="18.6" height="50.27"/><rect x="1377.97" y="81.23" width="18.6" height="24.27"/><rect x="1401.30" y="75.16" width="18.6" height="30.34"/><rect x="1424.63" y="81.23" width="18.6" height="24.27"/><rect x="1447.96" y="45.11" width="18.6" height="60.39"/><rect x="1471.29" y="81.23" width="18.6" height="24.27"/><rect x="1494.62" y="77.18" width="18.6" height="28.32"/><rect x="1517.95" y="55.23" width="18.6" height="50.27"/><rect x="1541.28" y="71.12" width="18.6" height="34.38"/><rect x="1564.61" y="81.23" width="18.6" height="24.27"/><rect x="1587.94" y="95.10" width="18.6" height="10.40"/><rect x="1611.27" y="57.25" width="18.6" height="48.25"/><rect x="1634.60" y="73.14" width="18.6" height="32.36"/><rect x="1657.93" y="85.27" width="18.6" height="20.23"/><rect x="1681.26" y="67.07" width="18.6" height="38.43"/><rect x="1704.59" y="69.09" width="18.6" height="36.41"/><rect x="1727.92" y="49.16" width="18.6" height="56.34"/><rect x="1751.25" y="43.38" width="18.6" height="62.12"/><rect x="1774.58" y="49.16" width="18.6" height="56.34"/><rect x="1797.91" y="41.07" width="18.6" height="64.43"/><rect x="1821.24" y="67.07" width="18.6" height="38.43"/><rect x="1844.57" y="81.23" width="18.6" height="24.27"/><rect x="1867.90" y="79.21" width="18.6" height="26.29"/><rect x="1891.23" y="49.16" width="18.6" height="56.34"/><rect x="1914.56" y="53.20" width="18.6" height="52.30"/><rect x="1937.89" y="85.27" width="18.6" height="20.23"/><rect x="1961.22" y="85.27" width="18.6" height="20.23"/><rect x="1984.55" y="65.05" width="18.6" height="40.45"/><rect x="2007.88" y="63.03" width="18.6" height="42.47"/><rect x="2031.21" y="57.25" width="18.6" height="48.25"/><rect x="2054.54" y="65.05" width="18.6" height="40.45"/><rect x="2077.87" y="63.03" width="18.6" height="42.47"/><rect x="2101.20" y="83.25" width="18.6" height="22.25"/><rect x="2124.53" y="69.09" width="18.6" height="36.41"/><rect x="2147.86" y="79.21" width="18.6" height="26.29"/><rect x="2171.19" y="73.14" width="18.6" height="32.36"/><rect x="2194.52" y="85.27" width="18.6" height="20.23"/><rect x="2217.85" y="41.07" width="18.6" height="64.43"/><rect x="2241.18" y="69.09" width="18.6" height="36.41"/><rect x="2264.51" y="83.25" width="18.6" height="22.25"/><rect x="2287.84" y="43.38" width="18.6" height="62.12"/><rect x="2311.17" y="37.02" width="18.6" height="68.48"/><rect x="2334.50" y="53.20" width="18.6" height="52.30"/><rect x="2357.83" y="41.07" width="18.6" height="64.43"/><rect x="2381.16" y="73.14" width="18.6" height="32.36"/><rect x="2404.49" y="85.27" width="18.6" height="20.23"/><rect x="2427.82" y="75.16" width="18.6" height="30.34"/><rect x="2451.15" y="61.00" width="18.6" height="44.50"/><rect x="2474.48" y="33.27" width="18.6" height="72.23"/><rect x="2497.81" y="23.15" width="18.6" height="82.35"/><rect x="2521.14" y="81.23" width="18.6" height="24.27"/><rect x="2544.47" y="71.12" width="18.6" height="34.38"/><rect x="2567.80" y="75.16" width="18.6" height="30.34"/><rect x="2591.13" y="17.09" width="18.6" height="88.41"/><rect x="2614.46" y="65.05" width="18.6" height="40.45"/><rect x="2637.79" y="77.18" width="18.6" height="28.32"/><rect x="2661.12" y="51.18" width="18.6" height="54.32"/><rect x="2684.45" y="75.16" width="18.6" height="30.34"/><rect x="2707.78" y="37.02" width="18.6" height="68.48"/><rect x="2731.11" y="65.05" width="18.6" height="40.45"/><rect x="2754.44" y="57.25" width="18.6" height="48.25"/><rect x="2777.77" y="73.14" width="18.6" height="32.36"/></g><rect x="1191.33" y="51.20" width="18.6" height="2.2" fill="#c0453b"/></svg>
<div class="r" style="left:192.5px;top:694.8px;width:2800.5px;height:1.5px;background:#80858b;"></div>
<div class="r" style="left:240.2px;top:696.0px;width:1.6px;height:11.0px;background:#5a6269;"></div>
<div class="t" style="left:215.7px;top:707.4px;font-size:20.20px;color:#1c2b34;">13:25</div>
<div class="r" style="left:473.5px;top:696.0px;width:1.6px;height:11.0px;background:#5a6269;"></div>
<div class="t" style="left:449.0px;top:707.4px;font-size:20.20px;color:#1c2b34;">13:30</div>
<div class="r" style="left:706.8px;top:696.0px;width:1.6px;height:11.0px;background:#5a6269;"></div>
<div class="t" style="left:682.3px;top:707.4px;font-size:20.20px;color:#1c2b34;">13:35</div>
<div class="r" style="left:940.1px;top:696.0px;width:1.6px;height:11.0px;background:#5a6269;"></div>
<div class="t" style="left:915.6px;top:707.4px;font-size:20.20px;color:#1c2b34;">13:40</div>
<div class="r" style="left:1173.4px;top:696.0px;width:1.6px;height:11.0px;background:#5a6269;"></div>
<div class="t" style="left:1148.9px;top:707.4px;font-size:20.20px;color:#1c2b34;">13:45</div>
<div class="r" style="left:1406.7px;top:696.0px;width:1.6px;height:11.0px;background:#5a6269;"></div>
<div class="t" style="left:1382.2px;top:707.4px;font-size:20.20px;color:#1c2b34;">13:50</div>
<div class="r" style="left:1640.0px;top:696.0px;width:1.6px;height:11.0px;background:#5a6269;"></div>
<div class="t" style="left:1615.5px;top:707.4px;font-size:20.20px;color:#1c2b34;">13:55</div>
<div class="r" style="left:1873.3px;top:696.0px;width:1.6px;height:11.0px;background:#5a6269;"></div>
<div class="t" style="left:1848.8px;top:707.4px;font-size:20.20px;color:#1c2b34;">14:00</div>
<div class="r" style="left:2106.6px;top:696.0px;width:1.6px;height:11.0px;background:#5a6269;"></div>
<div class="t" style="left:2082.1px;top:707.4px;font-size:20.20px;color:#1c2b34;">14:05</div>
<div class="r" style="left:2339.9px;top:696.0px;width:1.6px;height:11.0px;background:#5a6269;"></div>
<div class="t" style="left:2315.4px;top:707.4px;font-size:20.20px;color:#1c2b34;">14:10</div>
<div class="r" style="left:2573.2px;top:696.0px;width:1.6px;height:11.0px;background:#5a6269;"></div>
<div class="t" style="left:2548.7px;top:707.4px;font-size:20.20px;color:#1c2b34;">14:15</div>
<div class="r" style="left:2806.5px;top:696.0px;width:1.6px;height:11.0px;background:#5a6269;"></div>
<div class="t" style="left:2782.0px;top:707.4px;font-size:20.20px;color:#1c2b34;">14:20</div>
<div class="t" style="right:2838.8px;top:622.9px;font-size:20.20px;color:#1c2b34;">100</div>
<div class="t" style="right:2838.8px;top:684.3px;font-size:20.20px;color:#1c2b34;">0</div>
<div class="r" style="left:100.0px;top:763.5px;width:2924.0px;height:15.5px;background:#f8f9f9;"></div>
<div class="r" style="left:132.3px;top:803.4px;width:483.0px;height:54.6px;background:#fff;border:2px solid #c3c8ce;border-radius:8px;"></div>
<div class="r" style="left:134.3px;top:805.4px;width:209.7px;height:50.6px;background:#e2e5ea;border-radius:6px 0 0 6px;border-right:2px solid #c3c8ce;"></div>
<div class="t" style="left:146.8px;top:817.8px;font-size:26.95px;color:#5c6670;">Use facets with</div>
<div class="t" style="left:361.9px;top:818.1px;font-size:26.62px;color:#1c2b34;">Query <b>a</b></div>
<svg class="s" style="left:580.0px;top:826.0px;" width="20.0" height="11.0" viewBox="0 0 20 11"><path d="M0 0 H20 L10 11 Z" fill="#5c6670"/></svg>
<div class="r" style="left:132.3px;top:875.8px;width:483.0px;height:54.2px;background:#fff;border:2px solid #c3c8ce;border-radius:8px;"></div>
<svg class="s" style="left:151.0px;top:889.0px;" width="30.0" height="30.0" viewBox="0 0 30 30"><g fill="none" stroke="#80898f" stroke-width="2.6"><circle cx="12.6" cy="12.6" r="9.9"/><line x1="19.8" y1="19.8" x2="28.5" y2="28.5"/></g></svg>
<div class="t" style="left:198.7px;top:890.5px;font-size:26.14px;color:#9aa1a7;">Search facets</div>
<svg class="s" style="left:155.0px;top:958.0px;" width="30.0" height="30.0" viewBox="0 0 30 30"><g fill="none" stroke="#6b747c" stroke-width="2.4" stroke-linejoin="round"><path d="M2 27 V21 L19 4 L25 10 L8 27 Z"/><line x1="16" y1="7" x2="22" y2="13"/><line x1="13" y1="27" x2="26" y2="27"/></g></svg>
<div class="t" style="left:199.6px;top:962.1px;font-size:26.55px;color:#5c6670;">Showing 362 of 499</div>
<svg class="s" style="left:505.0px;top:963.0px;" width="25.0" height="25.0" viewBox="0 0 25 25"><g fill="#2b6bc4"><rect x="9" y="0" width="7" height="25" rx="1.5"/><rect x="0" y="9" width="25" height="7" rx="1.5"/></g></svg>
<div class="t" style="left:545.7px;top:962.3px;font-size:26.30px;color:#2f6cc4;">Add</div>
<div class="r" style="left:132.3px;top:1011.3px;width:483.7px;height:45.7px;background:#e2e5ea;border-radius:8px;"></div>
<svg class="s" style="left:152.0px;top:1028.5px;" width="20.0" height="13.0" viewBox="0 0 20 13"><path d="M1.5 1.5 L10 10 L18.5 1.5" fill="none" stroke="#5c6670" stroke-width="2.3"/></svg>
<div class="t" style="left:184.7px;top:1024.5px;font-size:21.80px;color:#5c6670;transform:scaleX(0.878);transform-origin:0 0;">CORE</div>
<svg class="s" style="left:157.0px;top:1090.7px;" width="14.0" height="22.0" viewBox="0 0 14 22"><path d="M1.5 1.5 L11 11 L1.5 20.5" fill="none" stroke="#656e75" stroke-width="2.3"/></svg>
<div class="t" style="left:188.6px;top:1086.9px;font-size:27.88px;color:#1c2b34;font-weight:700;">Index</div>
<div class="r" style="left:132.0px;top:1137.0px;width:483.5px;height:2.0px;background:#e4e7ea;"></div>
<svg class="s" style="left:157.0px;top:1165.0px;" width="14.0" height="22.0" viewBox="0 0 14 22"><path d="M1.5 1.5 L11 11 L1.5 20.5" fill="none" stroke="#656e75" stroke-width="2.3"/></svg>
<div class="t" style="left:188.6px;top:1163.4px;font-size:25.49px;color:#1c2b34;font-weight:700;">Source</div>
<div class="r" style="left:132.0px;top:1210.7px;width:483.5px;height:2.0px;background:#e4e7ea;"></div>
<svg class="s" style="left:157.0px;top:1238.8px;" width="14.0" height="22.0" viewBox="0 0 14 22"><path d="M1.5 1.5 L11 11 L1.5 20.5" fill="none" stroke="#656e75" stroke-width="2.3"/></svg>
<div class="t" style="left:188.6px;top:1236.6px;font-size:26.24px;color:#1c2b34;font-weight:700;">Host</div>
<div class="r" style="left:132.0px;top:1284.5px;width:483.5px;height:2.0px;background:#e4e7ea;"></div>
<svg class="s" style="left:152.0px;top:1315.6px;" width="22.0" height="14.0" viewBox="0 0 22 14"><path d="M1.5 1.5 L11 11 L20.5 1.5" fill="none" stroke="#5c6670" stroke-width="2.3"/></svg>
<div class="t" style="left:188.6px;top:1310.8px;font-size:25.74px;color:#1c2b34;font-weight:700;">Service</div>
<div class="r" style="left:522.6px;top:1303.6px;width:76.7px;height:38.5px;background:#848ca6;border:2px solid #6b7387;border-radius:7px;"></div>
<div class="r" style="left:524.6px;top:1305.6px;width:35.6px;height:34.5px;background:#fff;border-radius:5px 0 0 5px;"></div>
<svg class="s" style="left:534.0px;top:1314.0px;" width="16.0" height="18.0" viewBox="0 0 16 18"><path d="M0 0 H16 L10 7 V18 L6 16 V7 Z" fill="#1c2b34"/></svg>
<svg class="s" style="left:571.0px;top:1315.0px;" width="16.0" height="16.0" viewBox="0 0 16 16"><g stroke="#fff" stroke-width="3.4"><line x1="2" y1="2" x2="14" y2="14"/><line x1="14" y1="2" x2="2" y2="14"/></g></svg>
<div class="r" style="left:148.8px;top:1360.0px;width:450.0px;height:45.7px;background:#fff;border:2px solid #c3c8ce;border-radius:8px;"></div>
<svg class="s" style="left:166.0px;top:1369.0px;" width="27.0" height="27.0" viewBox="0 0 27 27"><g fill="none" stroke="#80898f" stroke-width="2.4"><circle cx="11.34" cy="11.34" r="8.91"/><line x1="17.82" y1="17.82" x2="25.65" y2="25.65"/></g></svg>
<div class="t" style="left:211.2px;top:1371.1px;font-size:24.64px;color:#9aa1a7;">Filter values</div>
<div class="r" style="left:100px;top:1420px;width:540px;height:444px;overflow:hidden">
<div class="r" style="left:54px;top:15.4px;width:27.8px;height:26.6px;border:2px solid #b9bec5;border-radius:4px;background:#fff"></div>
<div class="t" style="left:96.6px;top:15.5px;font-size:27.65px;color:#1c2b34">web-store</div>
<div class="r" style="left:485.5px;top:27.7px;width:5px;height:2px;background:#5c6670"></div>
<div class="r" style="left:54px;top:67.6px;width:27.8px;height:26.6px;border:2px solid #b9bec5;border-radius:4px;background:#fff"></div>
<div class="t" style="left:96.6px;top:66.8px;font-size:28.64px;color:#1c2b34">auth-dotnet</div>
<div class="r" style="left:485.5px;top:79.9px;width:5px;height:2px;background:#5c6670"></div>
<div class="r" style="left:54px;top:119.7px;width:27.8px;height:26.6px;border:2px solid #b9bec5;border-radius:4px;background:#fff"></div>
<div class="t" style="left:96.6px;top:119.9px;font-size:27.49px;color:#1c2b34">email-api-py</div>
<div class="r" style="left:485.5px;top:132.0px;width:5px;height:2px;background:#5c6670"></div>
<div class="r" style="left:54px;top:171.9px;width:27.8px;height:26.6px;border:2px solid #b9bec5;border-radius:4px;background:#fff"></div>
<div class="t" style="left:96.6px;top:172.3px;font-size:27.23px;color:#1c2b34">ad-server</div>
<div class="r" style="left:485.5px;top:184.2px;width:5px;height:2px;background:#5c6670"></div>
<div class="r" style="left:54px;top:224.0px;width:27.8px;height:26.6px;border:2px solid #b9bec5;border-radius:4px;background:#fff"></div>
<div class="t" style="left:96.6px;top:223.7px;font-size:28.16px;color:#1c2b34">shipping-producer</div>
<div class="r" style="left:485.5px;top:236.3px;width:5px;height:2px;background:#5c6670"></div>
<div class="r" style="left:54px;top:276.2px;width:27.8px;height:26.6px;border:2px solid #b9bec5;border-radius:4px;background:#fff"></div>
<div class="t" style="left:96.6px;top:276.0px;font-size:27.94px;color:#1c2b34">web-store-mongo</div>
<div class="r" style="left:485.5px;top:288.5px;width:5px;height:2px;background:#5c6670"></div>
<div class="r" style="left:54px;top:328.3px;width:27.8px;height:26.6px;border:2px solid #b9bec5;border-radius:4px;background:#fff"></div>
<div class="t" style="left:96.6px;top:328.0px;font-size:28.16px;color:#1c2b34">fraud-prevention-api</div>
<div class="r" style="left:485.5px;top:340.6px;width:5px;height:2px;background:#5c6670"></div>
<div class="r" style="left:54px;top:380.4px;width:27.8px;height:26.6px;border:2px solid #b9bec5;border-radius:4px;background:#fff"></div>
<div class="t" style="left:96.6px;top:380.7px;font-size:27.48px;color:#1c2b34">email-queue-processor</div>
<div class="r" style="left:485.5px;top:392.8px;width:5px;height:2px;background:#5c6670"></div>
<div class="r" style="left:54px;top:432.6px;width:27.8px;height:26.6px;border:2px solid #b9bec5;border-radius:4px;background:#fff"></div>
<div class="t" style="left:96.6px;top:432.3px;font-size:28.09px;color:#1c2b34">product-recommendati</div>
<div class="r" style="left:485.5px;top:444.9px;width:5px;height:2px;background:#5c6670"></div>
</div>
<div class="r" style="left:132.0px;top:1881.0px;width:483.0px;height:2.0px;background:#e4e7ea;"></div>
<svg class="s" style="left:688.3px;top:817.3px;" width="28.0" height="28.0" viewBox="0 0 28 28"><rect x="1.1" y="1.1" width="25.8" height="25.8" rx="2.6" fill="none" stroke="#2e64b3" stroke-width="2.2"/><g stroke="#2e64b3" stroke-width="1.1" opacity=".85"><line x1="2.5" y1="8" x2="8" y2="2.5"/><line x1="2.5" y1="12.5" x2="8" y2="7"/><line x1="2.5" y1="17" x2="8" y2="11.5"/><line x1="2.5" y1="21.5" x2="8" y2="16"/><line x1="3" y1="25.5" x2="8" y2="20.5"/></g><path d="M18.5 8.5 L13.5 14 L18.5 19.5" fill="none" stroke="#2e64b3" stroke-width="3"/></svg>
<div class="t" style="left:729.7px;top:818.1px;font-size:27.29px;color:#2e64b3;">Hide Controls</div>
<div class="r" style="left:928.6px;top:814.0px;width:3.0px;height:35.0px;background:#dfe2e6;"></div>
<div class="t" style="left:964.6px;top:818.1px;font-size:27.29px;color:#1c2b34;">Query <b>a</b>: <span style="color:#2e64b3">1,390 logs found</span></div>
<div class="r" style="left:1295.0px;top:816.0px;width:3.0px;height:33.0px;background:#dfe2e6;"></div>
<div class="t" style="left:1324.6px;top:818.1px;font-size:27.29px;color:#1c2b34;">Query <b>b</b>: <span style="color:#2e64b3">1,390 logs found</span></div>
<div class="r" style="left:2605.3px;top:804.2px;width:168.0px;height:54.3px;background:#fff;border:2px solid #c3c8ce;border-radius:8px;"></div>
<svg class="s" style="left:2628.0px;top:816.0px;" width="30.0" height="30.0" viewBox="0 0 30 30"><g fill="none" stroke="#4b555d" stroke-width="2.6"><path d="M2 17 V27 H28 V17"/><line x1="15" y1="3" x2="15" y2="20"/><path d="M8 10 L15 3 L22 10"/></g></svg>
<div class="t" style="left:2673.0px;top:818.6px;font-size:27.16px;color:#1c2b34;">Export</div>
<div class="r" style="left:2790.8px;top:804.2px;width:184.2px;height:54.3px;background:#fff;border:2px solid #c3c8ce;border-radius:8px;"></div>
<svg class="s" style="left:2813.0px;top:816.0px;" width="30.0" height="30.0" viewBox="0 0 30 30"><g fill="#4b555d"><circle cx="15" cy="15" r="9"/><rect x="12" y="1" width="6" height="8" transform="rotate(0 15 15)"/><rect x="12" y="1" width="6" height="8" transform="rotate(45 15 15)"/><rect x="12" y="1" width="6" height="8" transform="rotate(90 15 15)"/><rect x="12" y="1" width="6" height="8" transform="rotate(135 15 15)"/><rect x="12" y="1" width="6" height="8" transform="rotate(180 15 15)"/><rect x="12" y="1" width="6" height="8" transform="rotate(225 15 15)"/><rect x="12" y="1" width="6" height="8" transform="rotate(270 15 15)"/><rect x="12" y="1" width="6" height="8" transform="rotate(315 15 15)"/></g><circle cx="15" cy="15" r="4" fill="#fff"/></svg>
<div class="t" style="left:2858.0px;top:818.3px;font-size:27.48px;color:#1c2b34;">Options</div>
<div class="t" style="left:1597.5px;top:884.8px;font-size:22.58px;color:#6b747c;">Display:</div>
<div class="t" style="left:1715.3px;top:885.5px;font-size:21.75px;color:#1c2b34;">Lines</div>
<svg class="s" style="left:1797.5px;top:891.5px;" width="15.0" height="8.5" viewBox="0 0 15 8.5"><path d="M0 0 H15 L7.5 8.5 Z" fill="#4b555d"/></svg>
<div class="t" style="left:1848.8px;top:884.7px;font-size:22.64px;color:#6b747c;">Color:</div>
<svg class="s" style="left:1947.0px;top:883.0px;" width="48.0" height="27.0" viewBox="0 0 48 27"><g><path d="M5 0 H15 V27 H5 Q0 27 0 22 V5 Q0 0 5 0 Z" fill="#4f8fde"/><rect x="17" y="0" width="13" height="27" fill="#8ea9ef"/><path d="M32 0 H42 Q47 0 47 5 V22 Q47 27 42 27 H32 Z" fill="#f3d57c"/></g></svg>
<div class="t" style="left:2012.0px;top:885.8px;font-size:21.38px;color:#1c2b34;">Classic</div>
<svg class="s" style="left:2111.5px;top:891.5px;" width="15.0" height="8.5" viewBox="0 0 15 8.5"><path d="M0 0 H15 L7.5 8.5 Z" fill="#4b555d"/></svg>
<div class="t" style="left:2161.2px;top:885.3px;font-size:21.99px;color:#6b747c;">Style:</div>
<div class="t" style="left:2253.0px;top:885.2px;font-size:22.04px;color:#1c2b34;">Solid</div>
<svg class="s" style="left:2333.5px;top:891.5px;" width="15.0" height="8.5" viewBox="0 0 15 8.5"><path d="M0 0 H15 L7.5 8.5 Z" fill="#4b555d"/></svg>
<div class="t" style="left:2383.6px;top:884.8px;font-size:22.51px;color:#6b747c;">Stroke:</div>
<div class="t" style="left:2492.3px;top:883.8px;font-size:23.80px;color:#1c2b34;">Normal</div>
<svg class="s" style="left:2600.5px;top:891.5px;" width="15.0" height="8.5" viewBox="0 0 15 8.5"><path d="M0 0 H15 L7.5 8.5 Z" fill="#4b555d"/></svg>
<div class="t" style="left:2647.6px;top:884.7px;font-size:22.74px;color:#6b747c;">Roll up every:</div>
<div class="t" style="left:2809.0px;top:884.7px;font-size:22.65px;color:#1c2b34;">Auto (20s)</div>
<svg class="s" style="left:2944.5px;top:891.5px;" width="15.0" height="8.5" viewBox="0 0 15 8.5"><path d="M0 0 H15 L7.5 8.5 Z" fill="#4b555d"/></svg>
<svg class="s" style="left:757.6px;top:900px" width="2212" height="840" viewBox="0 0 2212 840"><rect x="0" y="767.34" width="2211.5" height="2" fill="#e7e9ec"/><rect x="0" y="711.37" width="2211.5" height="2" fill="#e7e9ec"/><rect x="0" y="655.40" width="2211.5" height="2" fill="#e7e9ec"/><rect x="0" y="599.44" width="2211.5" height="2" fill="#e7e9ec"/><rect x="0" y="543.47" width="2211.5" height="2" fill="#e7e9ec"/><rect x="0" y="487.51" width="2211.5" height="2" fill="#e7e9ec"/><rect x="0" y="431.55" width="2211.5" height="2" fill="#e7e9ec"/><rect x="0" y="375.58" width="2211.5" height="2" fill="#e7e9ec"/><rect x="0" y="319.62" width="2211.5" height="2" fill="#e7e9ec"/><rect x="0" y="263.65" width="2211.5" height="2" fill="#e7e9ec"/><rect x="0" y="207.68" width="2211.5" height="2" fill="#e7e9ec"/><rect x="0" y="151.72" width="2211.5" height="2" fill="#e7e9ec"/><rect x="0" y="95.75" width="2211.5" height="2" fill="#e7e9ec"/><rect x="0" y="39.79" width="2211.5" height="2" fill="#e7e9ec"/><rect x="0" y="823.5999999999999" width="2212" height="1.6" fill="#80858b"/></svg>
<div class="t" style="right:2276.6px;top:1714.4px;font-size:20.20px;color:#1c2b34;">0</div>
<div class="t" style="right:2276.6px;top:1658.4px;font-size:20.20px;color:#1c2b34;">50</div>
<div class="t" style="right:2276.6px;top:1602.5px;font-size:20.20px;color:#1c2b34;">100</div>
<div class="t" style="right:2276.6px;top:1546.5px;font-size:20.20px;color:#1c2b34;">150</div>
<div class="t" style="right:2276.6px;top:1490.5px;font-size:20.20px;color:#1c2b34;">200</div>
<div class="t" style="right:2276.6px;top:1434.6px;font-size:20.20px;color:#1c2b34;">250</div>
<div class="t" style="right:2276.6px;top:1378.6px;font-size:20.20px;color:#1c2b34;">300</div>
<div class="t" style="right:2276.6px;top:1322.6px;font-size:20.20px;color:#1c2b34;">350</div>
<div class="t" style="right:2276.6px;top:1266.7px;font-size:20.20px;color:#1c2b34;">400</div>
<div class="t" style="right:2276.6px;top:1210.7px;font-size:20.20px;color:#1c2b34;">450</div>
<div class="t" style="right:2276.6px;top:1154.8px;font-size:20.20px;color:#1c2b34;">500</div>
<div class="t" style="right:2276.6px;top:1098.8px;font-size:20.20px;color:#1c2b34;">550</div>
<div class="t" style="right:2276.6px;top:1042.8px;font-size:20.20px;color:#1c2b34;">600</div>
<div class="t" style="right:2276.6px;top:986.9px;font-size:20.20px;color:#1c2b34;">650</div>
<div class="t" style="right:2276.6px;top:930.9px;font-size:20.20px;color:#1c2b34;">700</div>
<div class="r" style="left:795.4px;top:1725.0px;width:1.6px;height:11.0px;background:#5a6269;"></div>
<div class="t" style="left:770.9px;top:1736.9px;font-size:20.20px;color:#1c2b34;">13:25</div>
<div class="r" style="left:979.7px;top:1725.0px;width:1.6px;height:11.0px;background:#5a6269;"></div>
<div class="t" style="left:955.2px;top:1736.9px;font-size:20.20px;color:#1c2b34;">13:30</div>
<div class="r" style="left:1164.0px;top:1725.0px;width:1.6px;height:11.0px;background:#5a6269;"></div>
<div class="t" style="left:1139.5px;top:1736.9px;font-size:20.20px;color:#1c2b34;">13:35</div>
<div class="r" style="left:1348.3px;top:1725.0px;width:1.6px;height:11.0px;background:#5a6269;"></div>
<div class="t" style="left:1323.8px;top:1736.9px;font-size:20.20px;color:#1c2b34;">13:40</div>
<div class="r" style="left:1532.6px;top:1725.0px;width:1.6px;height:11.0px;background:#5a6269;"></div>
<div class="t" style="left:1508.1px;top:1736.9px;font-size:20.20px;color:#1c2b34;">13:45</div>
<div class="r" style="left:1716.9px;top:1725.0px;width:1.6px;height:11.0px;background:#5a6269;"></div>
<div class="t" style="left:1692.4px;top:1736.9px;font-size:20.20px;color:#1c2b34;">13:50</div>
<div class="r" style="left:1901.2px;top:1725.0px;width:1.6px;height:11.0px;background:#5a6269;"></div>
<div class="t" style="left:1876.7px;top:1736.9px;font-size:20.20px;color:#1c2b34;">13:55</div>
<div class="r" style="left:2085.5px;top:1725.0px;width:1.6px;height:11.0px;background:#5a6269;"></div>
<div class="t" style="left:2061.0px;top:1736.9px;font-size:20.20px;color:#1c2b34;">14:00</div>
<div class="r" style="left:2269.8px;top:1725.0px;width:1.6px;height:11.0px;background:#5a6269;"></div>
<div class="t" style="left:2245.3px;top:1736.9px;font-size:20.20px;color:#1c2b34;">14:05</div>
<div class="r" style="left:2454.1px;top:1725.0px;width:1.6px;height:11.0px;background:#5a6269;"></div>
<div class="t" style="left:2429.6px;top:1736.9px;font-size:20.20px;color:#1c2b34;">14:10</div>
<div class="r" style="left:2638.4px;top:1725.0px;width:1.6px;height:11.0px;background:#5a6269;"></div>
<div class="t" style="left:2613.9px;top:1736.9px;font-size:20.20px;color:#1c2b34;">14:15</div>
<div class="r" style="left:2822.7px;top:1725.0px;width:1.6px;height:11.0px;background:#5a6269;"></div>
<div class="t" style="left:2798.2px;top:1736.9px;font-size:20.20px;color:#1c2b34;">14:20</div>
<div class="t" style="left:671.7px;top:1414.5px;font-size:22.95px;color:#9aa1a7;transform:rotate(-90deg);transform-origin:0 0;line-height:1">Milliseconds</div>
<svg class="s" style="left:740px;top:1050px" width="2250" height="560" viewBox="0 0 2250 560"><polyline points="17.50,489.80 29.79,477.00 42.08,480.60 54.38,394.50 66.67,454.70 78.96,460.20 91.25,482.80 103.54,473.00 115.84,469.00 128.13,488.30 140.42,494.40 152.71,484.60 165.00,470.00 177.30,460.20 189.59,476.10 201.88,464.50 214.17,479.70 226.46,483.70 238.76,450.70 251.05,460.20 263.34,477.00 275.63,495.30 287.92,464.50 300.22,482.20 312.51,482.20 324.80,488.30 337.09,466.00 349.38,460.20 361.68,484.60 373.97,492.30 386.26,502.00 398.55,449.50 410.84,466.00 423.14,463.80 435.43,477.60 447.72,482.20 460.01,499.90 472.30,468.40 484.60,449.20 496.89,470.90 509.18,480.60 521.47,493.50 533.76,483.10 546.06,489.20 558.35,489.20 570.64,486.80 582.93,497.40 595.22,492.30 607.52,452.50 619.81,457.10 632.10,470.00 644.39,485.80 656.68,459.30 668.98,467.80 681.27,466.30 693.56,452.50 705.85,472.40 718.14,381.40 730.44,492.90 742.73,490.70 755.02,473.60 767.31,461.70 779.60,502.00 791.90,453.80 804.19,479.70 816.48,477.60 828.77,512.70 841.06,482.80 853.36,485.20 865.65,497.40 877.94,432.70 890.23,473.60 902.52,485.80 914.82,477.60 927.11,491.30 939.40,458.30 951.69,481.60 963.98,407.30 976.28,440.90 988.57,490.40 1000.86,502.00 1013.15,485.80 1025.44,487.70 1037.74,434.20 1050.03,498.00 1062.32,478.50 1074.61,476.10 1086.90,478.50 1099.20,482.80 1111.49,451.60 1123.78,455.30 1136.07,488.90 1148.36,478.50 1160.66,466.00 1172.95,493.80 1185.24,482.80 1197.53,505.10 1209.82,475.50 1222.12,480.60 1234.41,485.80 1246.70,480.60 1258.99,475.10 1271.28,445.50 1283.58,465.40 1295.87,487.70 1308.16,405.20 1320.45,484.60 1332.74,467.50 1345.04,405.20 1357.33,484.60 1369.62,473.00 1381.91,442.50 1394.20,466.90 1406.50,488.30 1418.79,483.10 1431.08,486.80 1443.37,503.60 1455.66,462.90 1467.96,497.40 1480.25,470.00 1492.54,426.60 1504.83,451.60 1517.12,489.80 1529.42,456.20 1541.71,492.00 1554.00,467.50 1566.29,414.10 1578.58,494.40 1590.88,486.80 1603.17,502.90 1615.46,483.70 1627.75,454.70 1640.04,474.50 1652.34,491.30 1664.63,499.90 1676.92,428.70 1689.21,492.90 1701.50,468.40 1713.80,471.50 1726.09,478.50 1738.38,463.20 1750.67,470.60 1762.96,448.60 1775.26,492.00 1787.55,484.60 1799.84,490.70 1812.13,492.90 1824.42,473.00 1836.72,454.70 1849.01,452.50 1861.30,458.30 1873.59,502.00 1885.88,456.20 1898.18,459.30 1910.47,466.00 1922.76,479.10 1935.05,479.70 1947.34,508.10 1959.64,468.40 1971.93,456.80 1984.22,493.50 1996.51,473.00 2008.80,485.80 2021.10,477.00 2033.39,492.00 2045.68,460.80 2057.97,488.30 2070.26,495.90 2082.56,378.90 2094.85,492.90 2107.14,477.00 2119.43,493.50 2131.72,495.30 2144.02,468.40 2156.31,478.50 2168.60,494.40 2180.89,512.10 2193.18,470.60 2205.48,485.80 2217.77,502.00" fill="none" stroke="#5a4cb8" stroke-width="4.0" stroke-linejoin="round" stroke-linecap="round"/><polyline points="17.50,247.60 29.79,265.20 42.08,246.30 54.38,214.10 66.67,252.60 78.96,316.70 91.25,220.70 103.54,294.80 115.84,248.80 128.13,257.10 140.42,318.70 152.71,305.40 165.00,282.80 177.30,372.00 189.59,311.70 201.88,211.10 214.17,318.70 226.46,288.50 238.76,278.50 251.05,329.80 263.34,322.50 275.63,304.10 287.92,284.80 300.22,280.20 312.51,253.10 324.80,274.00 337.09,346.90 349.38,265.70 361.68,288.50 373.97,271.40 386.26,222.40 398.55,316.70 410.84,305.40 423.14,268.90 435.43,228.20 447.72,182.20 460.01,230.00 472.30,242.50 484.60,275.20 496.89,312.90 509.18,295.30 521.47,278.50 533.76,195.50 546.06,231.20 558.35,271.40 570.64,199.00 582.93,294.00 595.22,330.50 607.52,89.20 619.81,257.60 632.10,320.50 644.39,251.30 656.68,303.60 668.98,301.60 681.27,325.50 693.56,231.70 705.85,326.70 718.14,200.50 730.44,328.80 742.73,252.60 755.02,331.30 767.31,316.70 779.60,307.90 791.90,238.80 804.19,247.60 816.48,277.70 828.77,37.10 841.06,243.80 853.36,325.50 865.65,287.80 877.94,323.00 890.23,290.30 902.52,281.00 914.82,326.20 927.11,253.30 939.40,275.20 951.69,311.70 963.98,306.10 976.28,272.70 988.57,215.60 1000.86,227.40 1013.15,274.50 1025.44,274.00 1037.74,291.00 1050.03,284.80 1062.32,287.80 1074.61,256.40 1086.90,298.60 1099.20,300.40 1111.49,378.20 1123.78,140.70 1136.07,238.70 1148.36,340.50 1160.66,224.90 1172.95,252.50 1185.24,281.40 1197.53,263.80 1209.82,309.60 1222.12,304.80 1234.41,252.50 1246.70,291.50 1258.99,330.50 1271.28,238.70 1283.58,253.80 1295.87,331.20 1308.16,240.00 1320.45,276.40 1332.74,299.00 1345.04,46.40 1357.33,299.00 1369.62,275.20 1381.91,258.80 1394.20,327.90 1406.50,221.10 1418.79,114.30 1431.08,243.70 1443.37,257.60 1455.66,316.60 1467.96,302.80 1480.25,281.40 1492.54,257.60 1504.83,277.70 1517.12,338.80 1529.42,209.80 1541.71,192.20 1554.00,304.10 1566.29,244.20 1578.58,280.20 1590.88,231.20 1603.17,265.10 1615.46,193.50 1627.75,225.60 1640.04,211.10 1652.34,251.80 1664.63,251.80 1676.92,299.00 1689.21,347.30 1701.50,253.30 1713.80,295.80 1726.09,255.80 1738.38,290.20 1750.67,290.20 1762.96,306.10 1775.26,262.60 1787.55,278.90 1799.84,259.30 1812.13,287.70 1824.42,265.10 1836.72,256.80 1849.01,264.40 1861.30,244.90 1873.59,303.40 1885.88,316.50 1898.18,141.40 1910.47,198.40 1922.76,209.70 1935.05,263.70 1947.34,270.00 1959.64,270.00 1971.93,280.00 1984.22,268.70 1996.51,164.50 2008.80,190.40 2021.10,275.80 2033.39,258.70 2045.68,288.80 2057.97,150.20 2070.26,219.70 2082.56,106.70 2094.85,292.60 2107.14,276.80 2119.43,302.70 2131.72,151.90 2144.02,261.20 2156.31,308.90 2168.60,297.60 2180.89,242.40 2193.18,254.90 2205.48,272.00 2217.77,293.40" fill="none" stroke="#4a8fdc" stroke-width="4.0" stroke-linejoin="round" stroke-linecap="round"/></svg>
<div class="r" style="left:734.2px;top:1793.5px;width:21.8px;height:21.8px;background:#4f93e0;border-radius:3px;"></div>
<div class="t" style="left:768.0px;top:1792.5px;font-size:23.72px;color:#1c2b34;">avg:@duration[service:fulfill-orders-us-prod]</div>
<div class="r" style="left:1261.0px;top:1793.5px;width:21.8px;height:21.8px;background:#5c4fba;border-radius:3px;"></div>
<div class="t" style="left:1295.4px;top:1792.6px;font-size:23.68px;color:#1c2b34;">hour_before(avg:@duration[service:fulfill-orders-us-prod])</div>
</body></html>
